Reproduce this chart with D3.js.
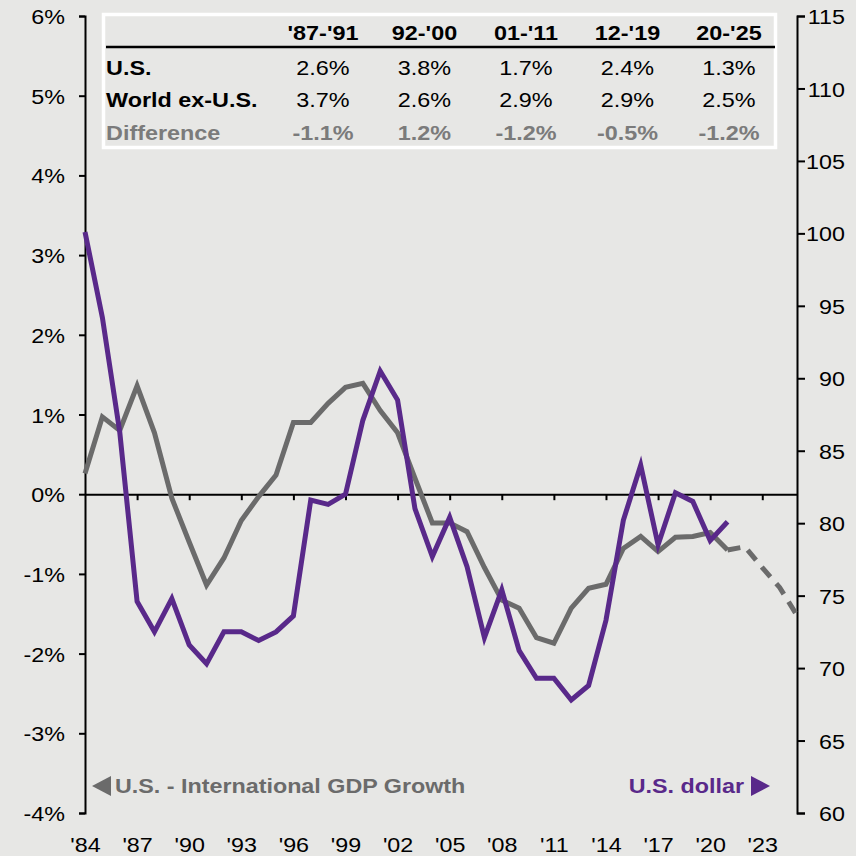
<!DOCTYPE html>
<html>
<head>
<meta charset="utf-8">
<script src="https://cdn.jsdelivr.net/npm/d3@7"></script>
<style>
  html, body { margin: 0; padding: 0; background: #e7e7e5; }
  svg { display: block; }
  text { font-family: "Liberation Sans", Arial, sans-serif; }
</style>
</head>
<body>
<svg id="chart" width="856" height="856"></svg>
<script>
// Annual U.S. minus world ex-U.S. real GDP growth (percentage points)
const years = d3.range(1984, 2022);
const gdpDiff = [0.26, 0.97, 0.80, 1.36, 0.77, -0.05, -0.60, -1.14, -0.80, -0.33,
  -0.03, 0.24, 0.90, 0.90, 1.14, 1.34, 1.39, 1.05, 0.77, 0.20,
  -0.36, -0.36, -0.47, -0.92, -1.33, -1.43, -1.80, -1.87, -1.43, -1.18,
  -1.13, -0.68, -0.53, -0.72, -0.54, -0.53, -0.48, -0.70];
// Forecast path of the growth gap
const forecastYears = [2021, 2022, 2023, 2024, 2025];
const gdpForecast = [-0.70, -0.66, -0.92, -1.17, -1.52];
// Trade-weighted U.S. dollar index
const dollar = [100.1, 94.2, 86.3, 74.6, 72.5, 74.8, 71.6, 70.3, 72.5, 72.5,
  71.9, 72.5, 73.6, 81.6, 81.3, 82.0, 87.1, 90.5, 88.5, 81.0,
  77.7, 80.4, 77.0, 72.1, 75.4, 71.2, 69.3, 69.3, 67.8, 68.8,
  73.3, 80.2, 84.0, 78.5, 82.1, 81.5, 78.8, 80.1];

// Axis ticks
const leftTicks = d3.range(-4, 7);
const rightTicks = d3.range(60, 116, 5);
const yearTicks = d3.range(1984, 2024, 3);

// Summary table
const periods = ["'87-'91", "92-'00", "01-'11", "12-'19", "20-'25"];
const usGrowth = [2.6, 3.8, 1.7, 2.4, 1.3];
const worldGrowth = [3.7, 2.6, 2.9, 2.9, 2.5];
const growthDiff = [-1.1, 1.2, -1.2, -0.5, -1.2];

const GRAY = "#6b6b6b";
const PURPLE = "#59298a";
const SX = 1.11; // horizontal stretch of the lettering

const svg = d3.select("#chart");
const x = d3.scaleLinear().domain([1984, 2025]).range([85, 797]);
const yL = d3.scaleLinear().domain([-4, 6]).range([813, 16]);
const yR = d3.scaleLinear().domain([60, 115]).range([813, 16]);

function label(parent, px, py, str, o = {}) {
  const g = parent.append("g")
    .attr("transform", `translate(${px},${py}) scale(${o.sx || SX},1)`);
  return g.append("text")
    .attr("text-anchor", o.anchor || "start")
    .attr("font-size", o.size || 21)
    .attr("font-weight", o.bold ? "bold" : "normal")
    .attr("fill", o.fill || "#000")
    .text(str);
}

function styleAxis(g) {
  g.selectAll("path.domain").attr("stroke", "#000").attr("stroke-width", 2);
  g.selectAll(".tick line").attr("stroke", "#000").attr("stroke-width", 2);
}

// Left axis (percent)
const gL = svg.append("g").attr("transform", "translate(85,0)")
  .call(d3.axisLeft(yL).tickValues(leftTicks).tickSize(6).tickFormat(d => d + "%"));
styleAxis(gL);
gL.selectAll(".tick text")
  .attr("font-size", 21).attr("fill", "#000")
  .attr("font-family", "Liberation Sans, Arial, sans-serif")
  .attr("x", -20 / SX).attr("dy", "0.36em")
  .attr("transform", `scale(${SX},1)`);

// Right axis (index)
const gR = svg.append("g").attr("transform", "translate(797,0)")
  .call(d3.axisRight(yR).tickValues(rightTicks).tickSize(8));
styleAxis(gR);
gR.selectAll(".tick text")
  .attr("font-size", 21).attr("fill", "#000")
  .attr("font-family", "Liberation Sans, Arial, sans-serif")
  .attr("text-anchor", "end")
  .attr("x", 48 / SX).attr("dy", "0.36em")
  .attr("transform", `scale(${SX},1)`);

// Zero line with year ticks
const gZ = svg.append("g").attr("transform", `translate(0,${yL(0)})`)
  .call(d3.axisBottom(x).tickValues(yearTicks.slice(1)).tickSize(6).tickSizeOuter(0).tickFormat(""));
styleAxis(gZ);

// Year labels
const gB = svg.append("g").attr("transform", `translate(0,${yL(-4)})`)
  .call(d3.axisBottom(x).tickValues(yearTicks).tickSize(0)
    .tickFormat(d => "'" + String(d).slice(2)));
gB.select("path.domain").remove();
gB.selectAll(".tick text")
  .attr("font-size", 21).attr("fill", "#000")
  .attr("font-family", "Liberation Sans, Arial, sans-serif")
  .attr("y", 39).attr("dy", 0)
  .attr("transform", `scale(${SX},1)`);

// Series
const lineL = d3.line().x(d => x(d[0])).y(d => yL(d[1]));
const lineR = d3.line().x(d => x(d[0])).y(d => yR(d[1]));

svg.append("path")
  .datum(forecastYears.map((yr, i) => [yr, gdpForecast[i]]))
  .attr("d", lineL).attr("fill", "none")
  .attr("stroke", GRAY).attr("stroke-width", 5)
  .attr("stroke-dasharray", "13,9");

svg.append("path")
  .datum(years.map((yr, i) => [yr, gdpDiff[i]]))
  .attr("d", lineL).attr("fill", "none")
  .attr("stroke", GRAY).attr("stroke-width", 5)
  .attr("stroke-linejoin", "miter");

svg.append("path")
  .datum(years.map((yr, i) => [yr, dollar[i]]))
  .attr("d", lineR).attr("fill", "none")
  .attr("stroke", PURPLE).attr("stroke-width", 5)
  .attr("stroke-linejoin", "miter");

// Table
const tbl = svg.append("g");
tbl.append("rect").attr("x", 103.5).attr("y", 14.5).attr("width", 672).attr("height", 133)
  .attr("fill", "none").attr("stroke", "#fff").attr("stroke-width", 3.5);
tbl.append("line").attr("x1", 106).attr("x2", 775).attr("y1", 47).attr("y2", 47)
  .attr("stroke", "#000").attr("stroke-width", 2.5);

const colX = d3.scalePoint().domain(periods).range([323, 729]);
const rowY = [40, 75, 107, 140];
const TS = 20, TSX = 1.17;
const fmt = v => v.toFixed(1) + "%";

periods.forEach(p => label(tbl, colX(p), rowY[0], p, { anchor: "middle", bold: true, size: TS, sx: TSX }));
label(tbl, 106, rowY[1], "U.S.", { bold: true, size: TS, sx: TSX });
label(tbl, 106, rowY[2], "World ex-U.S.", { bold: true, size: TS, sx: TSX });
label(tbl, 106, rowY[3], "Difference", { bold: true, size: TS, sx: TSX, fill: "#7b7b7b" });
periods.forEach((p, i) => {
  label(tbl, colX(p), rowY[1], fmt(usGrowth[i]), { anchor: "middle", size: TS, sx: TSX });
  label(tbl, colX(p), rowY[2], fmt(worldGrowth[i]), { anchor: "middle", size: TS, sx: TSX });
  label(tbl, colX(p), rowY[3], fmt(growthDiff[i]), { anchor: "middle", bold: true, size: TS, sx: TSX, fill: "#7b7b7b" });
});

// Legend
const leg = svg.append("g");
leg.append("path").attr("d", "M92,786 L111,776 L111,796 Z").attr("fill", GRAY);
label(leg, 115, 793, "U.S. - International GDP Growth", { bold: true, fill: GRAY });
leg.append("path").attr("d", "M770,786 L751,776 L751,796 Z").attr("fill", PURPLE);
label(leg, 744, 793, "U.S. dollar", { bold: true, fill: PURPLE, anchor: "end" });
</script>
</body>
</html>
